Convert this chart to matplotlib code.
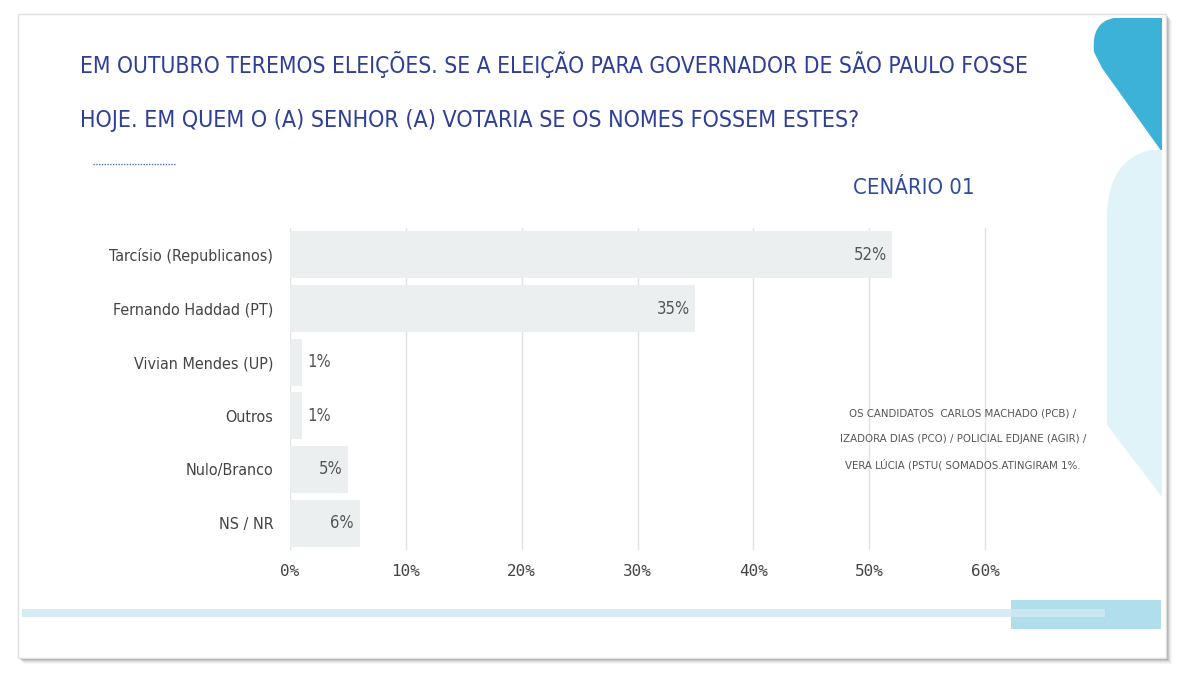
import matplotlib
matplotlib.use('Agg')
import matplotlib.pyplot as plt
from matplotlib.patches import Rectangle, PathPatch
from matplotlib.path import Path

# ---------------- data ----------------
categories = ["Tarcísio (Republicanos)", "Fernando Haddad (PT)", "Vivian Mendes (UP)",
              "Outros", "Nulo/Branco", "NS / NR"]
values = [52, 35, 1, 1, 5, 6]
value_labels = ["52%", "35%", "1%", "1%", "5%", "6%"]
xticks = [0, 10, 20, 30, 40, 50, 60]
xtick_labels = ["0%", "10%", "20%", "30%", "40%", "50%", "60%"]
title_lines = ["EM OUTUBRO TEREMOS ELEIÇÕES. SE A ELEIÇÃO PARA GOVERNADOR DE SÃO PAULO FOSSE",
               "HOJE. EM QUEM O (A) SENHOR (A) VOTARIA SE OS NOMES FOSSEM ESTES?"]
scenario = "CENÁRIO 01"
note_lines = ["OS CANDIDATOS  CARLOS MACHADO (PCB) /",
              "IZADORA DIAS (PCO) / POLICIAL EDJANE (AGIR) /",
              "VERA LÚCIA (PSTU( SOMADOS.ATINGIRAM 1%."]

W, H = 1200, 691
FONT = dict(family='DejaVu Sans', stretch='condensed')
MONO = dict(family='DejaVu Sans Mono')

fig = plt.figure(figsize=(W / 100, H / 100), dpi=100)
fig.patch.set_facecolor('white')


def X(px):
    return px / W


def Y(py):
    return 1 - py / H


def add_rect(x0, y0, x1, y1, **kw):
    r = Rectangle((X(x0), Y(y1)), X(x1) - X(x0), Y(y0) - Y(y1),
                  transform=fig.transFigure, **kw)
    fig.add_artist(r)
    return r


# ---------- card with shadow ----------
for i, a in enumerate([0.05, 0.08, 0.12, 0.18, 0.28, 0.35]):
    off = 6 - i
    add_rect(18 + off, 14 + off, 1166 + off, 658 + off, facecolor='#707070',
             edgecolor='none', alpha=a, zorder=0)
add_rect(18, 14, 1166, 658, facecolor='white', edgecolor='#e0e0e0', linewidth=1, zorder=0.5)

# ---------- right decorations ----------
def pix_path(verts, codes, **kw):
    v = [(X(x), Y(y)) for x, y in verts]
    p = PathPatch(Path(v, codes), transform=fig.transFigure, **kw)
    fig.add_artist(p)


M, L, C3, CL = Path.MOVETO, Path.LINETO, Path.CURVE3, Path.CLOSEPOLY
pix_path([(1162, 18), (1114, 18), (1091, 22), (1094, 52), (1102, 68), (1162, 152), (1162, 18)],
         [M, L, C3, C3, L, L, CL], facecolor='#3db2d8', edgecolor='none', zorder=0.6)
pix_path([(1162, 150), (1150, 150), (1108, 160), (1107, 215), (1107, 425), (1162, 497), (1162, 150)],
         [M, L, C3, C3, L, L, CL], facecolor='#e0f3f8', edgecolor='none', zorder=0.6)

# ---------- bottom band ----------
add_rect(1011, 600, 1161, 629, facecolor='#b0deea', edgecolor='none', zorder=0.6)
add_rect(22, 609, 1105, 617, facecolor='#cfe9f2', edgecolor='none', alpha=0.85, zorder=0.7)

# ---------- title ----------
fig.canvas.draw()
renderer = fig.canvas.get_renderer()


def fit(t, target_w):
    bb = t.get_window_extent(renderer=renderer)
    t.set_fontsize(t.get_fontsize() * target_w / bb.width)


title_color = '#2f3f98'
t1 = fig.text(X(80), Y(65), title_lines[0], ha='left', va='center', color=title_color,
              fontsize=16, **FONT)
fit(t1, 1037 - 80)
t2 = fig.text(X(80), Y(120), title_lines[1], ha='left', va='center', color=title_color,
              fontsize=16, **FONT)
fit(t2, 867 - 80)

fig.add_artist(plt.Line2D([X(93), X(175)], [Y(164), Y(164)], transform=fig.transFigure,
                          color='#5a6fc8', linewidth=1.0, linestyle=(0, (1, 1))))

ts = fig.text(X(853), Y(188), scenario, ha='left', va='center', color='#2f4a9c',
              fontsize=18, **FONT)
fit(ts, 975 - 853)

note_ys = [413, 439, 465]
nts = []
for ln, yy in zip(note_lines, note_ys):
    nts.append(fig.text(X(963), Y(yy), ln, ha='center', va='center', color='#555555',
                        fontsize=9, zorder=5, **FONT))
fit(nts[1], 1087 - 840)
for n in nts:
    n.set_fontsize(nts[1].get_fontsize())

# ---------- bar chart ----------
XMAX = 62
px_per_unit = (985 - 290) / 60
ax = fig.add_axes([X(290), Y(550), (XMAX * px_per_unit) / W, Y(228) - Y(550)])
ax.set_facecolor('none')
ax.set_zorder(2)
ypos = list(range(len(categories)))
bars = ax.barh(ypos, values, height=0.87, color='#eceff0', zorder=2)
ax.set_xlim(0, XMAX)
ax.set_ylim(len(categories) - 0.5, -0.5)
ax.set_xticks(xticks)
ax.set_xticklabels(xtick_labels)
ax.set_yticks(ypos)
ax.set_yticklabels(categories)
ax.tick_params(axis='both', length=0, colors='#444444')
ax.tick_params(axis='y', pad=12)
ax.tick_params(axis='x', pad=10)
for lab in ax.get_yticklabels():
    lab.set_family(FONT['family'])
    lab.set_stretch(FONT['stretch'])
    lab.set_fontsize(11.5)
for lab in ax.get_xticklabels():
    lab.set_family(MONO['family'])
    lab.set_fontsize(11.5)
for s in ax.spines.values():
    s.set_visible(False)
ax.grid(axis='x', color='#e2e2e2', linewidth=1.0, zorder=1)
ax.set_axisbelow(True)

for b, v, lbl in zip(bars, values, value_labels):
    yc = b.get_y() + b.get_height() / 2
    if v >= 3:
        ax.annotate(lbl, (v, yc), xytext=(-4, 0), textcoords='offset points',
                    ha='right', va='center', color='#555555', fontsize=12, zorder=4, **FONT)
    else:
        ax.annotate(lbl, (v, yc), xytext=(4, 0), textcoords='offset points',
                    ha='left', va='center', color='#555555', fontsize=12, zorder=4, **FONT)

fig.savefig('out.png', dpi=100, facecolor='white')
